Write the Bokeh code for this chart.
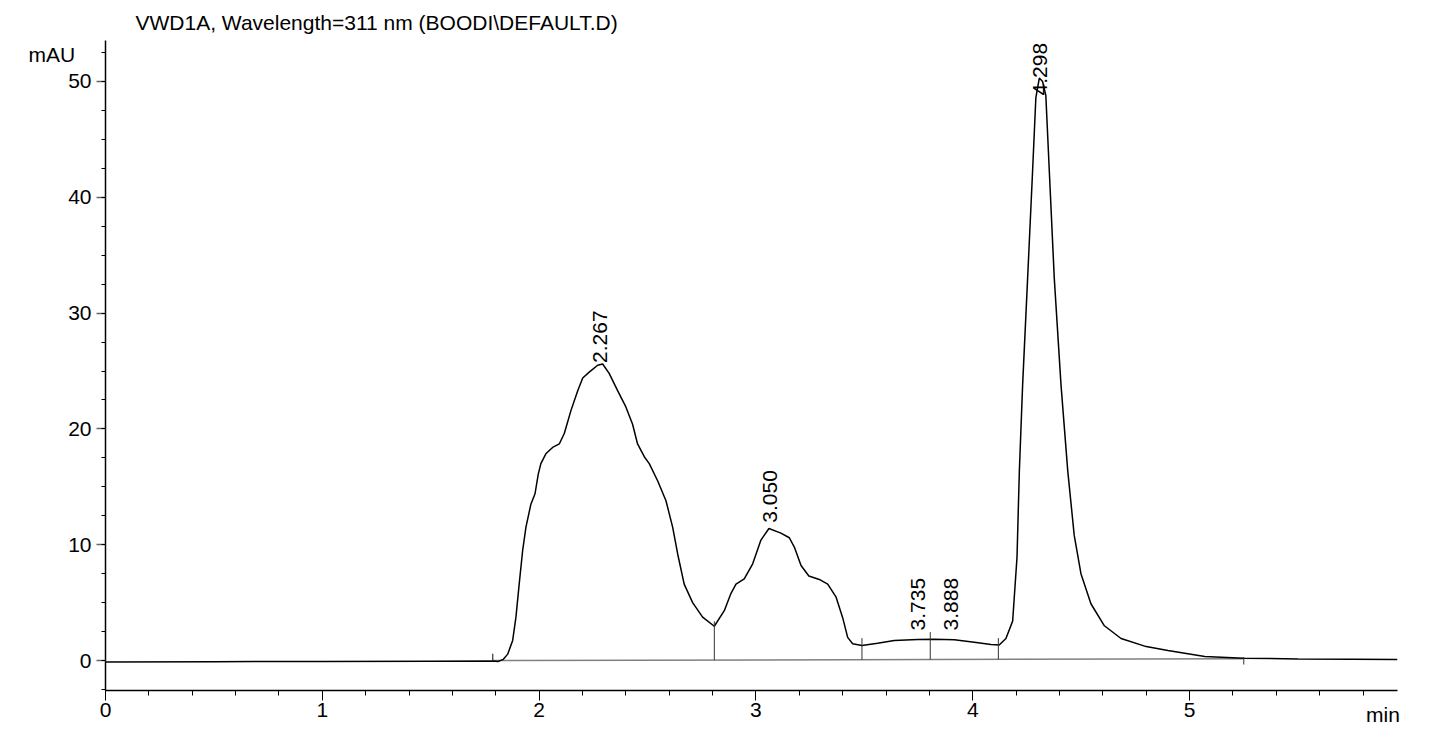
import numpy as np
from bokeh.plotting import figure
from bokeh.models import Range1d, FixedTicker
from bokeh.embed import file_html
from bokeh.resources import INLINE
from bokeh.core.properties import value

# ---- chromatogram trace (time in min, signal in mAU) ----
time_min = [0.0, 0.5, 1.0, 1.5, 1.786, 1.81, 1.835, 1.855, 1.878, 1.893, 1.908, 1.924,
            1.939, 1.962, 1.981, 1.996, 2.008, 2.031, 2.062, 2.093, 2.116, 2.147, 2.178,
            2.201, 2.231, 2.270, 2.293, 2.323, 2.362, 2.400, 2.431, 2.454, 2.485, 2.508,
            2.547, 2.585, 2.616, 2.639, 2.669, 2.708, 2.754, 2.808, 2.854, 2.885, 2.908,
            2.946, 2.985, 3.023, 3.060, 3.115, 3.154, 3.177, 3.208, 3.244, 3.292, 3.331,
            3.369, 3.400, 3.423, 3.446, 3.489, 3.561, 3.638, 3.746, 3.822, 3.915, 4.007,
            4.084, 4.122, 4.153, 4.184, 4.204, 4.215, 4.230, 4.253, 4.276, 4.291, 4.307,
            4.322, 4.337, 4.353, 4.376, 4.407, 4.438, 4.468, 4.499, 4.545, 4.607, 4.684,
            4.80, 4.90, 5.07, 5.25, 5.50, 5.75, 5.959]
signal_mau = [-0.12, -0.10, -0.08, -0.06, -0.05, -0.08, 0.10, 0.55, 1.73, 3.74, 6.6, 9.5,
              11.5, 13.5, 14.4, 16.1, 17.0, 17.85, 18.4, 18.7, 19.6, 21.6, 23.3,
              24.4, 24.9, 25.5, 25.6, 24.8, 23.3, 21.9, 20.4, 18.7, 17.6, 17.0,
              15.5, 13.8, 11.5, 9.2, 6.6, 5.0, 3.74, 2.96, 4.3, 5.8, 6.6,
              7.05, 8.35, 10.4, 11.4, 11.0, 10.6, 9.8, 8.2, 7.3, 7.0, 6.6,
              5.5, 3.7, 2.0, 1.44, 1.3, 1.5, 1.73, 1.81, 1.84, 1.79, 1.58,
              1.38, 1.34, 1.9, 3.4, 8.9, 16.4, 23.8, 33.0, 42.3, 48.6, 50.3,
              50.0, 48.8, 42.3, 33.0, 23.8, 16.4, 10.8, 7.5, 4.9, 3.0, 1.9,
              1.2, 0.86, 0.35, 0.2, 0.13, 0.10, 0.08]

# ---- peak annotations ----
peak_labels = ["2.267", "3.050", "3.735", "3.888", "4.298"]
peak_rt = [2.267, 3.050, 3.735, 3.888, 4.298]
peak_label_y = [25.7, 11.9, 2.6, 2.6, 48.8]

# ---- integration baseline & peak boundaries ----
baseline_t = [1.786, 5.25]
baseline_v = [0.0, 0.15]
boundary_t = [2.808, 3.489, 3.804, 4.118]
boundary_top = [3.39, 1.93, 2.45, 1.93]
start_t, start_top = 1.786, 0.58
end_t, end_top, end_bottom = 5.25, 0.3, -0.35

# ---- axes ----
x_ticks = [0, 1, 2, 3, 4, 5]
x_minor = [round(0.2 * i, 1) for i in range(30)]
y_ticks = [0, 10, 20, 30, 40, 50]
y_minor = [-2.5 + 2.5 * i for i in range(23)]

title_text = "VWD1A, Wavelength=311 nm (BOODI\\DEFAULT.D)"
x_unit = "min"
y_unit = "mAU"
FONT = "Liberation Sans"
FS = "21px"
NBSP = "\u00a0"

p = figure(width=1431, height=737,
           x_range=Range1d(0, 5.959), y_range=Range1d(-2.59, 53.54),
           output_backend="svg", toolbar_location=None,
           min_border_left=105, min_border_right=34,
           min_border_top=40, min_border_bottom=47)
p.outline_line_color = None
p.xgrid.visible = False
p.ygrid.visible = False
p.background_fill_color = "white"
p.border_fill_color = "white"

p.title.text = title_text
p.title.align = "left"
p.title.offset = 30
p.title.text_font = FONT
p.title.text_font_size = FS
p.title.text_font_style = "normal"
p.title.text_color = "black"
p.title.standoff = 14


def set_label_align(ax):
    for a in ("end", "right"):
        try:
            ax.axis_label_align = a
            return True
        except Exception:
            pass
    return False


# x axis
xa = p.xaxis[0]
xa.ticker = FixedTicker(ticks=x_ticks, minor_ticks=x_minor)
xa.axis_line_color = "black"
xa.axis_line_width = 1.5
xa.major_tick_out = 10
xa.major_tick_in = 0
xa.minor_tick_out = 5
xa.minor_tick_in = 0
xa.major_tick_line_color = "black"
xa.minor_tick_line_color = "black"
xa.major_label_text_font = FONT
xa.major_label_text_font_size = FS
xa.major_label_text_color = "black"
xa.major_label_standoff = 2
# label centred on the axis end; padding keeps the visible word inside the frame
xa.axis_label = x_unit + NBSP * 5
xa.axis_label_text_font = FONT
xa.axis_label_text_font_size = FS
xa.axis_label_text_font_style = "normal"
xa.axis_label_text_color = "black"
xa.axis_label_standoff = -17
set_label_align(xa)

# y axis
ya = p.yaxis[0]
ya.ticker = FixedTicker(ticks=y_ticks, minor_ticks=y_minor)
ya.axis_line_color = "black"
ya.axis_line_width = 1.5
ya.major_tick_out = 9
ya.major_tick_in = 0
ya.minor_tick_out = 4
ya.minor_tick_in = 0
ya.major_tick_line_color = "#666666"
ya.major_tick_line_width = 1.5
ya.minor_tick_line_color = "black"
ya.major_label_text_font = FONT
ya.major_label_text_font_size = FS
ya.major_label_text_color = "black"
ya.major_label_standoff = 5
ya.axis_label = "\n" + y_unit
ya.axis_label_text_font = FONT
ya.axis_label_text_font_size = FS
ya.axis_label_text_font_style = "normal"
ya.axis_label_text_color = "black"
ya.axis_label_orientation = "horizontal"
ya.axis_label_standoff = -10
set_label_align(ya)

# integration baseline
p.line(baseline_t, baseline_v, line_color="#808080", line_width=1.5)

# trace
p.line(time_min, signal_mau, line_color="black", line_width=1.5)

# peak boundary drop lines
drop_bottom = list(np.interp(boundary_t, baseline_t, baseline_v))
p.segment(x0=boundary_t, y0=drop_bottom, x1=boundary_t, y1=boundary_top,
          line_color="#333333", line_width=1)
p.segment(x0=[start_t], y0=[baseline_v[0]], x1=[start_t], y1=[start_top],
          line_color="#333333", line_width=1.2)
p.segment(x0=[end_t], y0=[end_bottom], x1=[end_t], y1=[end_top],
          line_color="#333333", line_width=1)

# peak labels
p.text(x=peak_rt, y=peak_label_y, text=peak_labels, angle=np.pi / 2,
       text_align="left", text_baseline="middle", x_offset=3,
       text_font=value(FONT), text_font_size="21px", text_color="black")

open("out.html", "w").write(file_html(p, INLINE))
